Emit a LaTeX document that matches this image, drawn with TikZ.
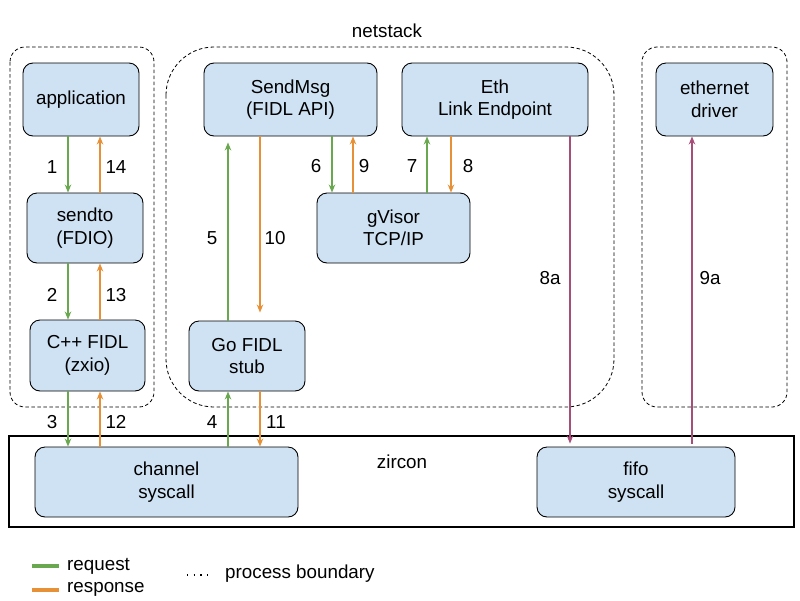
\documentclass[tikz,border=0pt]{standalone}
\usepackage{fontspec}
\setmainfont{Liberation Sans}
\usetikzlibrary{arrows.meta}
\definecolor{boxfill}{HTML}{CFE2F3}
\definecolor{reqc}{HTML}{6AA84F}
\definecolor{respc}{HTML}{E69138}
\definecolor{fifoc}{HTML}{A64D79}
\tikzset{
  txt/.style={font=\fontsize{18.8}{22.5}\selectfont, align=center, inner sep=0pt},
  bx/.style={txt, draw=black, line width=0.9pt, fill=boxfill, rounded corners=10pt, minimum width=#1},
  arr/.style={line width=1.7pt, -{Stealth[length=8pt,width=6.5pt,inset=2.5pt]}},
  req/.style={arr, draw=reqc},
  resp/.style={arr, draw=respc},
  fifoarr/.style={arr, draw=fifoc},
  boundary/.style={draw=black, line width=0.8pt, dash pattern=on 3.5pt off 2.5pt},
}
\begin{document}
\begin{tikzpicture}[x=1pt, y=-1pt]
\useasboundingbox (0,0) rectangle (800,600);

% process boundaries
\draw[boundary, rounded corners=15pt] (10,47) rectangle (154,407);
\draw[boundary, rounded corners=48pt] (166,47) rectangle (614,407);
\draw[boundary, rounded corners=15pt] (642,47) rectangle (787,407);
\node[txt] (netlbl) at (387,31) {netstack};

% zircon
\node[draw=black, line width=1.1pt, minimum width=785pt, minimum height=91pt, inner sep=0pt] (zrect) at (401.5,481.5) {};
\node[txt] (zlbl) at (402,462) {zircon};

% boxes
\node[bx=116pt, minimum height=73pt] (app) at (81,99.5) {application};
\node[bx=116pt, minimum height=70pt] (sendto) at (85,228) {sendto\\(FDIO)};
\node[bx=115pt, minimum height=71pt] (cpp) at (87.5,355.5) {C++ FIDL\\(zxio)};
\node[bx=173pt, minimum height=73pt] (sendmsg) at (290.5,99.5) {SendMsg\\(FIDL API)};
\node[bx=186pt, minimum height=73pt] (eth) at (495,99.5) {Eth\\Link Endpoint};
\node[bx=153pt, minimum height=70pt] (gvisor) at (393.5,228) {gVisor\\TCP/IP};
\node[bx=116pt, minimum height=70pt] (gostub) at (247,356) {Go FIDL\\stub};
\node[bx=117pt, minimum height=73pt] (ethdrv) at (714.5,99.5) {ethernet\\driver};
\node[bx=263pt, minimum height=70pt] (channel) at (166.5,482) {channel\\syscall};
\node[bx=198pt, minimum height=70pt] (fifo) at (636,482) {fifo\\syscall};

% connectors
\draw[req]  (app.south -| 68,0) -- (sendto.north -| 68,0);
\draw[resp] (sendto.north -| 100,0) -- (app.south -| 100,0);
\draw[req]  (sendto.south -| 68,0) -- (cpp.north -| 68,0);
\draw[resp] (cpp.north -| 100,0) -- (sendto.south -| 100,0);
\draw[req]  (cpp.south -| 68,0) -- (channel.north -| 68,0);
\draw[resp] (channel.north -| 100,0) -- (cpp.south -| 100,0);
\draw[req]  (channel.north -| 228,0) -- (gostub.south -| 228,0);
\draw[resp] (gostub.south -| 260,0) -- (channel.north -| 260,0);
\draw[req, shorten >=6pt]  (gostub.north -| 228,0) -- (sendmsg.south -| 228,0);
\draw[resp, shorten >=8pt] (sendmsg.south -| 260,0) -- (gostub.north -| 260,0);
\draw[req]  (sendmsg.south -| 332,0) -- (gvisor.north -| 332,0);
\draw[resp] (gvisor.north -| 353,0) -- (sendmsg.south -| 353,0);
\draw[req]  (gvisor.north -| 427,0) -- (eth.south -| 427,0);
\draw[resp] (eth.south -| 451,0) -- (gvisor.north -| 451,0);
\draw[fifoarr, shorten >=3pt] (eth.south -| 570,0) -- (fifo.north -| 570,0);
\draw[fifoarr, shorten <=3pt] (fifo.north -| 692,0) -- (ethdrv.south -| 692,0);

% connector labels
\node[txt] (l1) at (52,167) {1};
\node[txt] (l14) at (116,167) {14};
\node[txt] (l2) at (52,295) {2};
\node[txt] (l13) at (116,295) {13};
\node[txt] (l3) at (52,422) {3};
\node[txt] (l12) at (116,422) {12};
\node[txt] (l4) at (212,422) {4};
\node[txt] (l11) at (276,422) {11};
\node[txt] (l5) at (212,238) {5};
\node[txt] (l10) at (275,238) {10};
\node[txt] (l6) at (316,166) {6};
\node[txt] (l9) at (364,166) {9};
\node[txt] (l7) at (412,166) {7};
\node[txt] (l8) at (468,166) {8};
\node[txt] (l8a) at (550,278) {8a};
\node[txt] (l9a) at (710,278) {9a};

% legend
\coordinate (lg1a) at (32,566);
\coordinate (lg1b) at (59,566);
\coordinate (lg2a) at (32,590);
\coordinate (lg2b) at (59,590);
\coordinate (lg3a) at (187,575);
\coordinate (lg3b) at (213,575);
\draw[reqc, line width=3.5pt] (lg1a) -- (lg1b);
\draw[respc, line width=3.5pt] (lg2a) -- (lg2b);
\draw[black, line width=1.2pt, dash pattern=on 1.2pt off 5.5pt] (lg3a) -- (lg3b);
\node[txt, anchor=west] (lreq) at (67,566) {request};
\node[txt, anchor=west] (lresp) at (67,589) {response};
\node[txt, anchor=west] (lpb) at (225,574) {process boundary};
\end{tikzpicture}
\end{document}
